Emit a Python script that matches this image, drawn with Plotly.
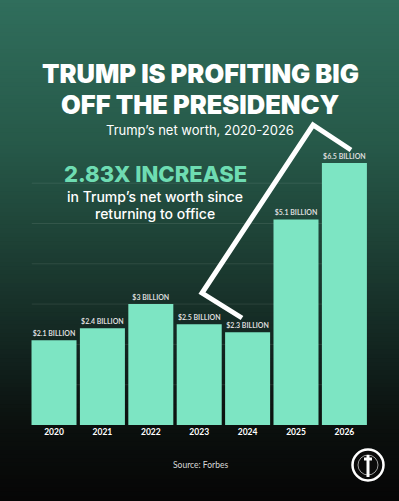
import plotly.graph_objects as go

years = ["2020", "2021", "2022", "2023", "2024", "2025", "2026"]
net_worth = [2.1, 2.4, 3.0, 2.5, 2.3, 5.1, 6.5]
value_labels = ["$2.1 BILLION", "$2.4 BILLION", "$3 BILLION", "$2.5 BILLION",
                "$2.3 BILLION", "$5.1 BILLION", "$6.5 BILLION"]
grid_values = [1, 2, 3, 4, 5, 6]

W, H = 399, 501
B = 76                 # bottom margin (pixels)
PH = H - B             # plot height
BAR = "#7de5c3"

def px(x):
    return x / W

def py(y):
    return (H - B - y) / PH

fig = go.Figure()
fig.add_trace(go.Bar(
    x=years, y=net_worth, text=value_labels, textposition="outside",
    textfont=dict(family="Lato", size=7, color="#dcdcdc", weight="bold"),
    marker=dict(color=BAR, line=dict(width=0)), cliponaxis=False,
    hoverinfo="skip",
))

shapes = []
stops = [(0.0, (48, 110, 92)), (0.3, (38, 88, 72)), (0.5, (29, 63, 52)),
         (0.7, (18, 36, 31)), (0.85, (11, 16, 14)), (1.0, (6, 6, 6))]
N = 120
for i in range(N):
    t = (i + 0.5) / N
    for j in range(len(stops) - 1):
        a, ca = stops[j]
        b, cb = stops[j + 1]
        if a <= t <= b:
            f = (t - a) / (b - a)
            c = tuple(int(round(ca[k] + (cb[k] - ca[k]) * f)) for k in range(3))
            break
    shapes.append(dict(type="rect", xref="paper", yref="paper", x0=0, x1=1,
                       y0=py((i + 1) * H / N) - 0.002, y1=py(i * H / N) + 0.002,
                       fillcolor="rgb(%d,%d,%d)" % c, line=dict(width=0), layer="below"))
for g in grid_values:
    shapes.append(dict(type="line", xref="x", yref="y", x0=-0.46, x1=6.46, y0=g, y1=g,
                       line=dict(color="rgba(255,255,255,0.09)", width=1), layer="below"))
pts = [(242, 318), (202, 293), (313, 125), (351, 150)]
path = "M " + " L ".join("%f,%f" % (px(x), py(y)) for x, y in pts)
shapes.append(dict(type="path", xref="paper", yref="paper", path=path,
                   line=dict(color="white", width=5), layer="above"))
cx, cy, r = 368, 465, 15.5
shapes.append(dict(type="circle", xref="paper", yref="paper",
                   x0=px(cx - r), x1=px(cx + r), y0=py(cy + r), y1=py(cy - r),
                   fillcolor="#0b0b0b", line=dict(color="white", width=2.5)))
r2 = 10
shapes.append(dict(type="circle", xref="paper", yref="paper",
                   x0=px(cx - r2), x1=px(cx + r2), y0=py(cy + r2), y1=py(cy - r2),
                   fillcolor="#0b0b0b", line=dict(color="rgba(255,255,255,0.6)", width=1)))
shapes.append(dict(type="line", xref="paper", yref="paper",
                   x0=px(cx), x1=px(cx), y0=py(455), y1=py(477),
                   line=dict(color="white", width=3)))
shapes.append(dict(type="line", xref="paper", yref="paper",
                   x0=px(cx - 4), x1=px(cx + 4), y0=py(459), y1=py(459),
                   line=dict(color="white", width=3)))

ann = []
def text(x, y, s, size, color="white", weight="normal", family="Inter"):
    ann.append(dict(x=px(x), y=py(y), xref="paper", yref="paper", text=s,
                    showarrow=False, xanchor="center", yanchor="middle",
                    font=dict(family=family, size=size, color=color, weight=weight)))

text(200, 74, "TRUMP IS PROFITING BIG", 25.5, weight=900)
text(200, 104, "OFF THE PRESIDENCY", 25.5, weight=900)
text(200, 129.5, "Trump\u2019s net worth, 2020-2026", 13)
text(155, 174, "2.83X INCREASE", 22, color="#6edcb2", weight=800)
text(155, 196, "in Trump\u2019s net worth since", 14, weight=500)
text(155, 213.5, "returning to office", 14, weight=500)
text(200, 465, "Source: Forbes", 8.5, color="#d8d8d8", family="Lato")

fig.update_layout(
    width=W, height=H, margin=dict(l=0, r=0, t=0, b=B),
    paper_bgcolor="#0a0a0a", plot_bgcolor="rgba(0,0,0,0)",
    bargap=0.07, showlegend=False, shapes=shapes, annotations=ann,
    xaxis=dict(type="category", range=[-1.116, 7.128], showgrid=False, zeroline=False,
               showline=False, ticks="", fixedrange=True,
               tickfont=dict(family="Lato", size=8.5, color="white", weight="bold")),
    yaxis=dict(range=[0, PH / 40.3], visible=False, fixedrange=True),
)
fig.write_html("out.html")
